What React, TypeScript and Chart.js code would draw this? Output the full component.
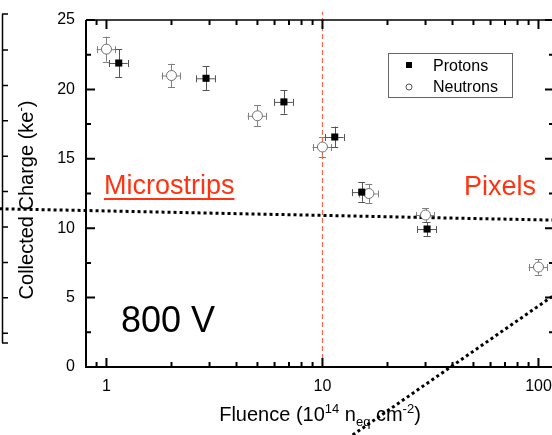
import React, { useEffect, useRef } from 'react';
import { Chart, registerables } from 'chart.js';
Chart.register(...registerables);

const FONT = '"Liberation Sans", Arial, Helvetica, sans-serif';

// ---- data ----
const neutronX = [1.0, 2.0, 5.0, 10.0, 16.4, 30.0, 100];
const neutronY = [22.9, 21.0, 18.1, 15.85, 12.5, 10.95, 7.2];
const neutronYErr = [0.9, 0.85, 0.75, 0.7, 0.7, 0.5, 0.55];

const protonX = [1.14, 2.89, 6.63, 11.4, 15.2, 30.5];
const protonY = [21.9, 20.8, 19.1, 16.57, 12.6, 9.94];
const protonYErr = [1.0, 0.85, 0.85, 0.75, 0.7, 0.5];

const xErrFrac = 0.1;

const microLineX = [0.32, 126];
const microLineY = [11.4, 10.57];
const pixelLineX = [13.8, 126];
const pixelLineY = [-4.9, 5.48];

const boundaryX = [10, 10];
const boundaryY = [0, 25.6];

const xTickValues = [1, 10, 100];
const xMinorTicks = [0.9, 2, 3, 4, 5, 6, 7, 8, 9, 20, 30, 40, 50, 60, 70, 80, 90];
const yTickValues = [0, 5, 10, 15, 20, 25];
const yMinorTicks = [2.5, 7.5, 12.5, 17.5, 22.5];

const X_MIN = 0.804;
const X_MAX = 118;

const pts = (xs: number[], ys: number[]) => xs.map((x, i) => ({ x, y: ys[i] }));

function drawRich(ctx: CanvasRenderingContext2D, parts: { t: string; s?: number; dy?: number }[], size: number) {
  // returns width; draws starting at 0,0 baseline
  let w = 0;
  const widths = parts.map((p) => {
    ctx.font = `${p.s ?? size}px ${FONT}`;
    return ctx.measureText(p.t).width;
  });
  w = widths.reduce((a, b) => a + b, 0);
  let x = -w / 2;
  parts.forEach((p, i) => {
    ctx.font = `${p.s ?? size}px ${FONT}`;
    ctx.fillText(p.t, x, p.dy ?? 0);
    x += widths[i];
  });
  return w;
}

const decor = {
  id: 'decor',
  beforeDatasetsDraw(chart: any) {
    const ctx = chart.ctx as CanvasRenderingContext2D;
    const xs = chart.scales.x;
    const ys = chart.scales.y;
    const drawErr = (X: number[], Y: number[], E: number[], color: string) => {
      ctx.save();
      ctx.strokeStyle = color;
      ctx.lineWidth = 1;
      X.forEach((x, i) => {
        const px = xs.getPixelForValue(x);
        const py = ys.getPixelForValue(Y[i]);
        const x1 = xs.getPixelForValue(x * (1 - xErrFrac));
        const x2 = xs.getPixelForValue(x * (1 + xErrFrac));
        const y1 = ys.getPixelForValue(Y[i] - E[i]);
        const y2 = ys.getPixelForValue(Y[i] + E[i]);
        ctx.beginPath();
        ctx.moveTo(x1, py + 0.5); ctx.lineTo(x2, py + 0.5);
        ctx.moveTo(Math.round(px) + 0.5, y1); ctx.lineTo(Math.round(px) + 0.5, y2);
        ctx.moveTo(px - 3.5, Math.round(y1) + 0.5); ctx.lineTo(px + 3.5, Math.round(y1) + 0.5);
        ctx.moveTo(px - 3.5, Math.round(y2) + 0.5); ctx.lineTo(px + 3.5, Math.round(y2) + 0.5);
        ctx.moveTo(Math.round(x1) + 0.5, py - 3); ctx.lineTo(Math.round(x1) + 0.5, py + 4);
        ctx.moveTo(Math.round(x2) + 0.5, py - 3); ctx.lineTo(Math.round(x2) + 0.5, py + 4);
        ctx.stroke();
      });
      ctx.restore();
    };
    drawErr(neutronX, neutronY, neutronYErr, '#808080');
    drawErr(protonX, protonY, protonYErr, '#555555');
  },
  afterDraw(chart: any) {
    const ctx = chart.ctx as CanvasRenderingContext2D;
    const xs = chart.scales.x;
    const ys = chart.scales.y;
    const { left, right, top, bottom } = chart.chartArea;
    ctx.save();
    ctx.strokeStyle = '#000';
    // frame
    ctx.lineWidth = 2;
    ctx.beginPath();
    ctx.moveTo(left, top); ctx.lineTo(left, bottom + 1);
    ctx.moveTo(left - 1, bottom); ctx.lineTo(right, bottom);
    ctx.moveTo(right, top); ctx.lineTo(right, bottom);
    ctx.stroke();
    ctx.lineWidth = 1.5;
    ctx.beginPath();
    ctx.moveTo(left, top); ctx.lineTo(right, top);
    ctx.stroke();
    // ticks
    ctx.lineWidth = 2;
    ctx.beginPath();
    yTickValues.forEach((v) => {
      const p = ys.getPixelForValue(v);
      ctx.moveTo(left, p); ctx.lineTo(left + 9, p);
      ctx.moveTo(right, p); ctx.lineTo(right - 9, p);
    });
    yMinorTicks.forEach((v) => {
      const p = ys.getPixelForValue(v);
      ctx.moveTo(left, p); ctx.lineTo(left + 5, p);
      ctx.moveTo(right, p); ctx.lineTo(right - 5, p);
    });
    xTickValues.forEach((v) => {
      const p = xs.getPixelForValue(v);
      ctx.moveTo(p, bottom); ctx.lineTo(p, bottom - 9);
      ctx.moveTo(p, top); ctx.lineTo(p, top + 9);
    });
    xMinorTicks.forEach((v) => {
      const p = xs.getPixelForValue(v);
      ctx.moveTo(p, bottom); ctx.lineTo(p, bottom - 5);
      ctx.moveTo(p, top); ctx.lineTo(p, top + 5);
    });
    ctx.stroke();

    // neighbouring frame edge at far left
    ctx.lineWidth = 1.5;
    ctx.beginPath();
    ctx.moveTo(2.5, 14); ctx.lineTo(2.5, 343);
    [14, 50, 85.4, 120.8, 156.2, 191.6, 227, 262.4, 297.8, 333.2, 343].forEach((y) => {
      ctx.moveTo(2, y); ctx.lineTo(8, y);
    });
    ctx.stroke();

    // axis titles
    ctx.fillStyle = '#000';
    ctx.textBaseline = 'alphabetic';
    ctx.save();
    ctx.translate((left + right) / 2 - 0, 421);
    drawRich(ctx, [
      { t: 'Fluence (10' },
      { t: '14', s: 13, dy: -8 },
      { t: ' n' },
      { t: 'eq', s: 13, dy: 5 },
      { t: ' cm' },
      { t: '-2', s: 13, dy: -8 },
      { t: ')' },
    ], 20);
    ctx.restore();
    ctx.save();
    ctx.translate(33, 200);
    ctx.rotate(-Math.PI / 2);
    drawRich(ctx, [
      { t: 'Collected Charge (ke' },
      { t: '-', s: 13, dy: -8 },
      { t: ')' },
    ], 20);
    ctx.restore();

    // annotations
    ctx.fillStyle = '#ff3311';
    ctx.font = `27px ${FONT}`;
    ctx.textAlign = 'left';
    ctx.fillText('Microstrips', 104, 194);
    const mw = ctx.measureText('Microstrips').width;
    ctx.fillRect(104, 198, mw, 2);
    ctx.fillText('Pixels', 464, 195);
    ctx.fillStyle = '#000';
    ctx.font = `36px ${FONT}`;
    ctx.fillText('800 V', 121, 332);

    // legend
    ctx.lineWidth = 1;
    ctx.strokeStyle = '#666';
    ctx.strokeRect(388.5, 53.5, 124, 44);
    ctx.fillStyle = '#000';
    ctx.fillRect(406, 62, 6, 6);
    ctx.beginPath();
    ctx.strokeStyle = '#555';
    ctx.arc(409, 87, 3, 0, Math.PI * 2);
    ctx.fillStyle = '#fff';
    ctx.fill();
    ctx.stroke();
    ctx.fillStyle = '#000';
    ctx.font = `16px ${FONT}`;
    ctx.fillText('Protons', 433, 71);
    ctx.fillText('Neutrons', 433, 92);
    ctx.restore();
  },
};

export default function App() {
  const ref = useRef<HTMLCanvasElement>(null);
  useEffect(() => {
    const fixPad = (s: any) => {
      s.paddingLeft = 0;
      s.paddingRight = 0;
      s.paddingTop = 0;
      s.paddingBottom = 0;
    };
    const chart = new Chart(ref.current!, {
      type: 'scatter',
      data: {
        datasets: [
          {
            label: 'Protons',
            data: pts(protonX, protonY),
            pointStyle: 'rect',
            pointRadius: 5,
            backgroundColor: '#000',
            borderColor: '#000',
            borderWidth: 0,
          },
          {
            label: 'Neutrons',
            data: pts(neutronX, neutronY),
            pointStyle: 'circle',
            pointRadius: 5,
            backgroundColor: '#fff',
            borderColor: '#707070',
            borderWidth: 1,
          },
          {
            label: 'boundary',
            data: pts(boundaryX, boundaryY),
            showLine: true,
            pointRadius: 0,
            borderColor: '#f26a50',
            borderWidth: 1.2,
            borderDash: [5, 3],
            clip: false,
          } as any,
          {
            label: 'microstrip trend',
            data: pts(microLineX, microLineY),
            showLine: true,
            pointRadius: 0,
            borderColor: '#000',
            borderWidth: 3,
            borderDash: [3, 3],
            clip: false,
          } as any,
          {
            label: 'pixel trend',
            data: pts(pixelLineX, pixelLineY),
            showLine: true,
            pointRadius: 0,
            borderColor: '#000',
            borderWidth: 3,
            borderDash: [3, 3],
            clip: false,
          } as any,
        ],
      },
      options: {
        responsive: false,
        animation: false,
        devicePixelRatio: 1,
        layout: { padding: { left: 0, right: 6, top: 20, bottom: 0 } },
        plugins: { legend: { display: false }, tooltip: { enabled: false } },
        scales: {
          x: {
            type: 'logarithmic',
            min: X_MIN,
            max: X_MAX,
            grid: { display: false, drawTicks: false },
            border: { display: false },
            afterBuildTicks: (s: any) => {
              s.ticks = xTickValues.map((v) => ({ value: v }));
            },
            ticks: {
              autoSkip: false,
              maxRotation: 0,
              padding: 10,
              color: '#000',
              font: { family: FONT, size: 16 },
              callback: (v: any) => String(v),
            },
            afterFit: (s: any) => {
              s.height = 68;
              fixPad(s);
            },
          },
          y: {
            min: 0,
            max: 25,
            grid: { display: false, drawTicks: false },
            border: { display: false },
            afterBuildTicks: (s: any) => {
              s.ticks = yTickValues.map((v) => ({ value: v }));
            },
            ticks: {
              padding: 11,
              color: '#000',
              font: { family: FONT, size: 16 },
            },
            afterFit: (s: any) => {
              s.width = 86;
              fixPad(s);
            },
          },
        },
      } as any,
      plugins: [decor],
    });
    return () => chart.destroy();
  }, []);
  return (
    <div style={{ position: 'fixed', left: 0, top: 0, width: 552, height: 435, overflow: 'hidden', background: '#fff' }}>
      <canvas ref={ref} width={560} height={435} style={{ display: 'block', width: 560, height: 435 }} />
    </div>
  );
}
